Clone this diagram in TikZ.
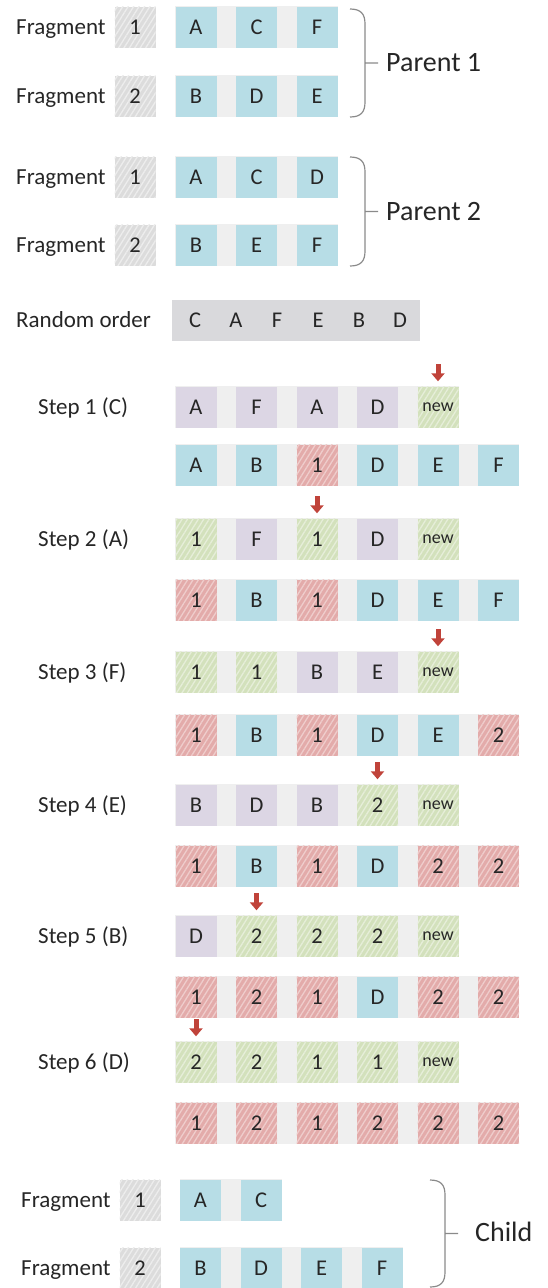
\documentclass[tikz,border=0pt]{standalone}
\usepackage{fontspec}
\setmainfont{Carlito}
\usetikzlibrary{patterns.meta,arrows.meta,backgrounds}
\definecolor{ink}{HTML}{262626}
\definecolor{blu}{HTML}{B7DDE6}
\definecolor{pur}{HTML}{DCD6E4}
\definecolor{grn}{HTML}{D3E1BC}
\definecolor{grnl}{HTML}{E6EED9}
\definecolor{rdd}{HTML}{E3ABAA}
\definecolor{rddl}{HTML}{EFCDCC}
\definecolor{gry}{HTML}{DCDCDC}
\definecolor{gryl}{HTML}{EDEDED}
\definecolor{stripc}{HTML}{EFEFEF}
\definecolor{rndc}{HTML}{D9D9DC}
\definecolor{arw}{HTML}{C0433A}
\definecolor{brg}{HTML}{8A8A8A}

\begin{document}
\begin{tikzpicture}[x=1pt,y=-1pt,
    cell/.style={minimum width=41pt,minimum height=41pt,inner sep=0pt,text=ink,
      font=\fontsize{22.5}{22.5}\selectfont,text height=14.2pt,text depth=0pt},
    bcell/.style={cell,fill=blu},
    pcell/.style={cell,fill=pur},
    hatch/.style={cell,preaction={fill=#1},pattern={Lines[angle=58,distance=4.6pt,line width=1.3pt]}},
    gcell/.style={hatch=grn,pattern color=grnl},
    rcell/.style={hatch=rdd,pattern color=rddl},
    hcell/.style={hatch=gry,pattern color=gryl},
    ncell/.style={gcell,font=\fontsize{18}{18}\selectfont,text height=8.4pt},
    lbl/.style={anchor=west,inner sep=0pt,text=ink,font=\fontsize{23}{23}\selectfont,
      text height=14.5pt,text depth=0pt},
    big/.style={lbl,font=\fontsize{28}{28}\selectfont,text height=17.7pt},
    strip/.style={fill=stripc},
    pick/.style={-{Triangle[width=13pt,length=8pt]},line width=5pt,arw},
    brc/.style={line width=1.2pt,brg}]
  \useasboundingbox (0,0) rectangle (547,1288);
  % parent 1
  \node[lbl] (f11) at (16,27) {Fragment};
  \node[hcell] (g11) at (135,27) {1};
  \foreach \t [count=\i] in {A,C,F} \node[bcell] (p1a\i) at (135.5+60.5*\i,27) {\t};
  \node[lbl] (f12) at (16,96) {Fragment};
  \node[hcell] (g12) at (135,96) {2};
  \foreach \t [count=\i] in {B,D,E} \node[bcell] (p1b\i) at (135.5+60.5*\i,96) {\t};
  \node[big] (par1) at (386,63) {Parent 1};
  % parent 2
  \node[lbl] (f21) at (16,177) {Fragment};
  \node[hcell] (g21) at (135,177) {1};
  \foreach \t [count=\i] in {A,C,D} \node[bcell] (p2a\i) at (135.5+60.5*\i,177) {\t};
  \node[lbl] (f22) at (16,245) {Fragment};
  \node[hcell] (g22) at (135,245) {2};
  \foreach \t [count=\i] in {B,E,F} \node[bcell] (p2b\i) at (135.5+60.5*\i,245) {\t};
  \node[big] (par2) at (386,212) {Parent 2};
  % random order
  \node[lbl] (rl) at (16,320) {Random order};
  \node[fill=rndc,minimum width=248pt,minimum height=41pt,inner sep=0pt] (rnd) at (296,320) {};
  \foreach \t [count=\i] in {C,A,F,E,B,D} \node[cell] (r\i) at (154+41*\i,320) {\t};
  % step 1
  \node[lbl] (st1) at (38,407) {Step 1 (C)};
  \foreach \s/\t [count=\i] in {pcell/A,pcell/F,pcell/A,pcell/D,ncell/new}
    \node[\s] (s1a\i) at (135.5+60.5*\i,407) {\t};
  \foreach \s/\t [count=\i] in {bcell/A,bcell/B,rcell/1,bcell/D,bcell/E,bcell/F}
    \node[\s] (s1b\i) at (135.5+60.5*\i,465) {\t};
  \draw[pick] ([yshift=22pt]s1a5.north) -- ([yshift=5pt]s1a5.north);
  % step 2
  \node[lbl] (st2) at (38,539) {Step 2 (A)};
  \foreach \s/\t [count=\i] in {gcell/1,pcell/F,gcell/1,pcell/D,ncell/new}
    \node[\s] (s2a\i) at (135.5+60.5*\i,539) {\t};
  \foreach \s/\t [count=\i] in {rcell/1,bcell/B,rcell/1,bcell/D,bcell/E,bcell/F}
    \node[\s] (s2b\i) at (135.5+60.5*\i,600) {\t};
  \draw[pick] ([yshift=22pt]s2a3.north) -- ([yshift=5pt]s2a3.north);
  % step 3
  \node[lbl] (st3) at (38,672) {Step 3 (F)};
  \foreach \s/\t [count=\i] in {gcell/1,gcell/1,pcell/B,pcell/E,ncell/new}
    \node[\s] (s3a\i) at (135.5+60.5*\i,672) {\t};
  \foreach \s/\t [count=\i] in {rcell/1,bcell/B,rcell/1,bcell/D,bcell/E,rcell/2}
    \node[\s] (s3b\i) at (135.5+60.5*\i,735) {\t};
  \draw[pick] ([yshift=22pt]s3a5.north) -- ([yshift=5pt]s3a5.north);
  % step 4
  \node[lbl] (st4) at (38,805) {Step 4 (E)};
  \foreach \s/\t [count=\i] in {pcell/B,pcell/D,pcell/B,gcell/2,ncell/new}
    \node[\s] (s4a\i) at (135.5+60.5*\i,805) {\t};
  \foreach \s/\t [count=\i] in {rcell/1,bcell/B,rcell/1,bcell/D,rcell/2,rcell/2}
    \node[\s] (s4b\i) at (135.5+60.5*\i,866) {\t};
  \draw[pick] ([yshift=22pt]s4a4.north) -- ([yshift=5pt]s4a4.north);
  % step 5
  \node[lbl] (st5) at (38,936) {Step 5 (B)};
  \foreach \s/\t [count=\i] in {pcell/D,gcell/2,gcell/2,gcell/2,ncell/new}
    \node[\s] (s5a\i) at (135.5+60.5*\i,936) {\t};
  \foreach \s/\t [count=\i] in {rcell/1,rcell/2,rcell/1,bcell/D,rcell/2,rcell/2}
    \node[\s] (s5b\i) at (135.5+60.5*\i,997) {\t};
  \draw[pick] ([yshift=22pt]s5a2.north) -- ([yshift=5pt]s5a2.north);
  % step 6
  \node[lbl] (st6) at (38,1062) {Step 6 (D)};
  \foreach \s/\t [count=\i] in {gcell/2,gcell/2,gcell/1,gcell/1,ncell/new}
    \node[\s] (s6a\i) at (135.5+60.5*\i,1062) {\t};
  \foreach \s/\t [count=\i] in {rcell/1,rcell/2,rcell/1,rcell/2,rcell/2,rcell/2}
    \node[\s] (s6b\i) at (135.5+60.5*\i,1123) {\t};
  \draw[pick] ([yshift=22pt]s6a1.north) -- ([yshift=5pt]s6a1.north);
  % child
  \node[lbl] (fc1) at (21,1200) {Fragment};
  \node[hcell] (gc1) at (140,1200) {1};
  \foreach \t [count=\i] in {A,C} \node[bcell] (ca\i) at (140+60.5*\i,1200) {\t};
  \node[lbl] (fc2) at (21,1268) {Fragment};
  \node[hcell] (gc2) at (140,1268) {2};
  \foreach \t [count=\i] in {B,D,E,F} \node[bcell] (cb\i) at (140+60.5*\i,1268) {\t};
  \node[big] (chl) at (475,1233) {Child};
  % strips behind the rows
  \begin{scope}[on background layer]
    \foreach \r/\n in {p1a/3,p1b/3,p2a/3,p2b/3,s1a/5,s1b/6,s2a/5,s2b/6,s3a/5,s3b/6,
        s4a/5,s4b/6,s5a/5,s5b/6,s6a/5,s6b/6,ca/2,cb/4}
      \fill[strip] (\r1.north west) rectangle (\r\n.south east);
  \end{scope}
  % braces
  \foreach \x/\a/\b in {350/9/117,350/157/266,430/1180/1287}
    \draw[brc] (\x,\a) .. controls (\x+11,\a) and (\x+15,\a+5) .. (\x+15,\a+15)
      -- (\x+15,\b-15) .. controls (\x+15,\b-5) and (\x+11,\b) .. (\x,\b)
      (\x+15,{(\a+\b)/2}) -- (\x+28,{(\a+\b)/2});
\end{tikzpicture}
\end{document}
